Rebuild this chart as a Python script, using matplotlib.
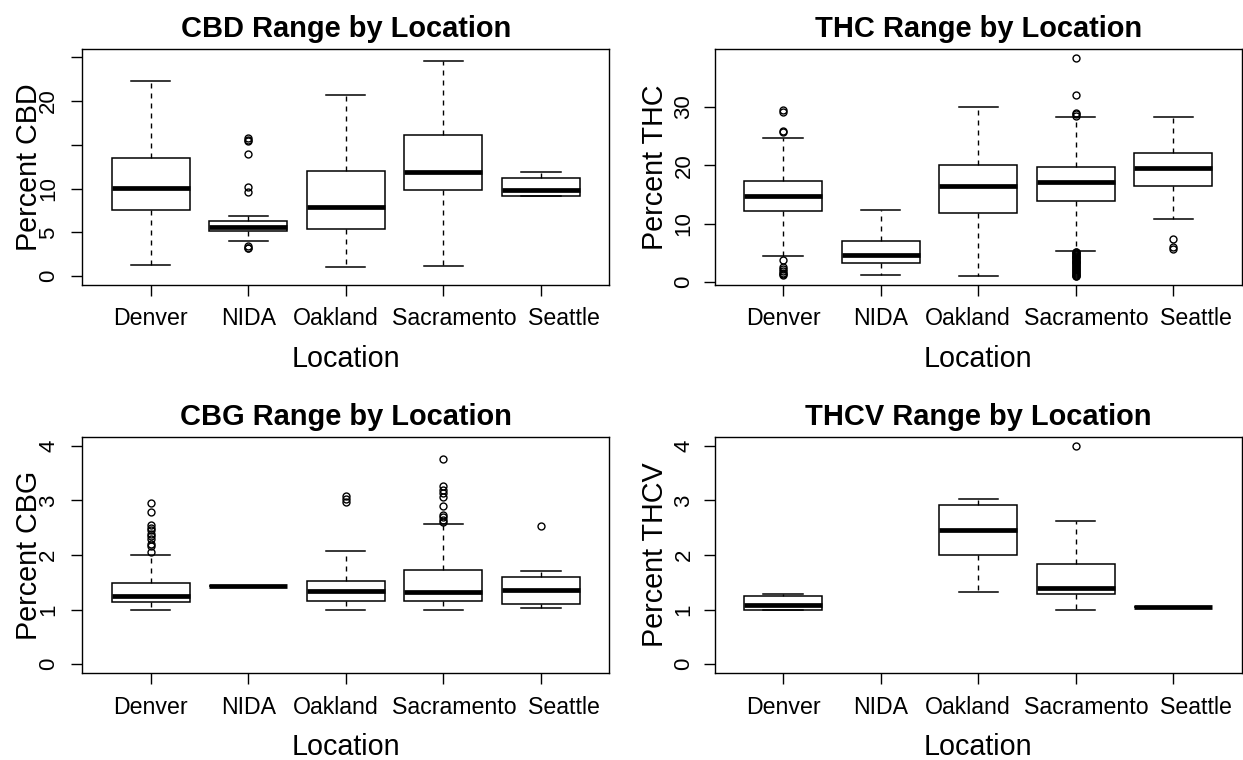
import matplotlib
matplotlib.use("Agg")
import matplotlib.pyplot as plt
from matplotlib.transforms import ScaledTranslation

plt.rcParams['font.family'] = ['Liberation Sans', 'DejaVu Sans']

locations = ['Denver', 'NIDA', 'Oakland', 'Sacramento', 'Seattle']
# the reference nudges the last labels sideways so they do not touch (pixels)
label_shift = [0, 0, -10, 11, 23]

# CBD (percent)
cbd_whislo = [1.26, 4.0, 1.03, 1.15, 9.12]
cbd_q1 = [7.56, 5.15, 5.38, 9.89, 9.12]
cbd_med = [10.04, 5.65, 7.94, 11.95, 9.85]
cbd_q3 = [13.47, 6.26, 12.06, 16.1, 11.18]
cbd_whishi = [22.25, 6.83, 20.65, 24.54, 11.9]
cbd_fliers = [[], [15.8, 15.6, 15.4, 13.9, 10.2, 9.66, 3.47, 3.28, 3.17], [], [], []]

# THC (percent)
thc_whislo = [4.44, 1.2, 1.02, 5.3, 10.87]
thc_q1 = [12.12, 3.24, 11.9, 13.89, 16.4]
thc_med = [14.8, 4.61, 16.5, 17.19, 19.6]
thc_q3 = [17.3, 7.0, 20.03, 19.64, 22.05]
thc_whishi = [24.7, 12.41, 30.0, 28.3, 28.3]
thc_fliers = [
    [29.5, 29.1, 25.9, 25.75, 3.85, 2.6, 2.2, 1.9, 1.65, 1.4, 1.2],
    [],
    [],
    [38.4, 32.0, 28.95, 28.7, 28.5,
     5.2, 5.1, 4.95, 4.8, 4.7, 4.55, 4.4, 4.3, 4.15, 4.0, 3.85, 3.7, 3.55,
     3.4, 3.25, 3.1, 2.9, 2.75, 2.6, 2.4, 2.25, 2.1, 1.9, 1.75, 1.6, 1.4,
     1.25, 1.1, 1.0],
    [7.4, 5.98, 5.75],
]

# CBG (percent)
cbg_whislo = [1.0, 1.44, 1.0, 1.0, 1.03]
cbg_q1 = [1.14, 1.44, 1.15, 1.15, 1.11]
cbg_med = [1.25, 1.44, 1.34, 1.33, 1.36]
cbg_q3 = [1.49, 1.44, 1.53, 1.73, 1.59]
cbg_whishi = [2.01, 1.44, 2.08, 2.56, 1.70]
cbg_fliers = [
    [2.95, 2.79, 2.55, 2.5, 2.45, 2.39, 2.34, 2.29, 2.2, 2.17, 2.06],
    [],
    [3.08, 3.03, 2.98],
    [3.76, 3.27, 3.19, 3.13, 3.07, 2.9, 2.74, 2.69, 2.64, 2.6],
    [2.53],
]

# THCV (percent), no NIDA values
thcv_whislo = [1.0, None, 1.33, 1.0, 1.045]
thcv_q1 = [1.0, None, 2.0, 1.28, 1.045]
thcv_med = [1.08, None, 2.45, 1.39, 1.045]
thcv_q3 = [1.25, None, 2.92, 1.84, 1.045]
thcv_whishi = [1.29, None, 3.02, 2.63, 1.045]
thcv_fliers = [[], [], [], [4.0], []]

W, H = 1243, 760
fig = plt.figure(figsize=(W / 100, H / 100), dpi=100)


def panel(rect, title, ylab, whislo, q1, med, q3, whishi, fliers,
          ylim, yticks, yticklabels, ypad, ylab_x):
    ax = fig.add_axes(rect)
    stats, pos = [], []
    for i in range(len(locations)):
        if med[i] is None:
            continue
        stats.append(dict(whislo=whislo[i], q1=q1[i], med=med[i], q3=q3[i],
                          whishi=whishi[i], fliers=fliers[i]))
        pos.append(i + 1)
    ax.bxp(stats, positions=pos, widths=0.8, capwidths=0.4, patch_artist=True,
           boxprops=dict(facecolor='white', edgecolor='black', linewidth=1.1),
           medianprops=dict(color='black', linewidth=3.4, solid_capstyle='butt'),
           whiskerprops=dict(color='black', linewidth=1.0, linestyle=(0, (3.6, 3.6))),
           capprops=dict(color='black', linewidth=1.1),
           flierprops=dict(marker='o', markerfacecolor='none', markeredgecolor='black',
                           markersize=5.0, markeredgewidth=1.0))
    ax.set_xlim(0.3, 5.7)
    ax.set_ylim(*ylim)
    ax.set_xticks(range(1, 6))
    ax.set_xticklabels(locations)
    ax.set_yticks(yticks)
    ax.set_yticklabels(yticklabels, rotation=90, va='center')
    ax.tick_params(axis='x', length=8, width=1.0, pad=8, labelsize=16.7)
    ax.tick_params(axis='y', length=8, width=1.0, pad=ypad, labelsize=16)
    for lab, dx in zip(ax.get_xticklabels(), label_shift):
        lab.set_transform(lab.get_transform() + ScaledTranslation(dx / 100, 0, fig.dpi_scale_trans))
    for s in ax.spines.values():
        s.set_linewidth(1.0)
    ax.set_title(title, fontsize=20.9, fontweight='bold', pad=8.5)
    ax.set_xlabel('Location', fontsize=20.7)
    ax.xaxis.set_label_coords(0.5, -0.346)
    ax.xaxis.label.set_va('baseline')
    ax.set_ylabel(ylab, fontsize=20.7)
    ax.yaxis.set_label_coords(ylab_x, 0.5)
    return ax


aw = 527 / W
ah = 236.5 / H
panel([82.3 / W, 1 - 285 / H, aw, ah], 'CBD Range by Location', 'Percent CBD',
      cbd_whislo, cbd_q1, cbd_med, cbd_q3, cbd_whishi, cbd_fliers,
      (-1, 26), [0, 5, 10, 15, 20, 25], ['0', '5', '10', '', '20', ''], 8.6, -0.075)
panel([714.7 / W, 1 - 285 / H, aw, ah], 'THC Range by Location', 'Percent THC',
      thc_whislo, thc_q1, thc_med, thc_q3, thc_whishi, thc_fliers,
      (-0.46, 39.95), [0, 10, 20, 30], ['0', '10', '20', '30'], 6.6, -0.087)
panel([82.3 / W, 1 - 673.3 / H, aw, ah], 'CBG Range by Location', 'Percent CBG',
      cbg_whislo, cbg_q1, cbg_med, cbg_q3, cbg_whishi, cbg_fliers,
      (-0.165, 4.165), [0, 1, 2, 3, 4], ['0', '1', '2', '3', '4'], 8.6, -0.075)
panel([714.7 / W, 1 - 673.3 / H, aw, ah], 'THCV Range by Location', 'Percent THCV',
      thcv_whislo, thcv_q1, thcv_med, thcv_q3, thcv_whishi, thcv_fliers,
      (-0.165, 4.165), [0, 1, 2, 3, 4], ['0', '1', '2', '3', '4'], 6.6, -0.087)

fig.savefig('out.png', dpi=100)
